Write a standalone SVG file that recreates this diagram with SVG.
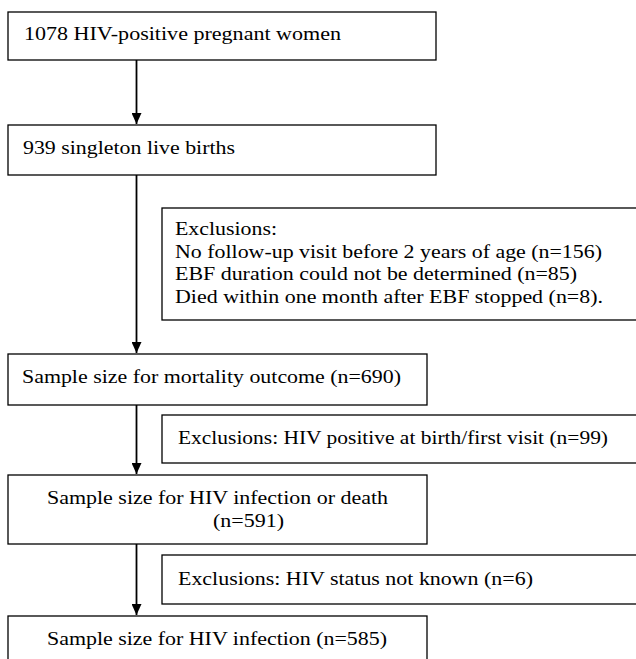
<svg xmlns="http://www.w3.org/2000/svg" width="636" height="659" viewBox="0 0 636 659">
<style>
.box{fill:#fff;stroke:#000;stroke-width:1.3}
.t{font-family:"Liberation Serif","Times New Roman",serif;font-size:19.5px;fill:#000}
.c{stroke:#000;stroke-width:1.8;fill:none}
</style>
<defs>
<marker id="ah" markerUnits="userSpaceOnUse" markerWidth="11" markerHeight="10" viewBox="0 0 11 10" refX="11" refY="5" orient="auto">
<path d="M0,0 L11,5 L0,10 Z" fill="#000"/>
</marker>
</defs>
<rect width="636" height="659" fill="#fff"/>
<g id="connectors">
<line class="c" x1="136.5" y1="60" x2="136.5" y2="124" marker-end="url(#ah)"/>
<line class="c" x1="136.5" y1="175" x2="136.5" y2="353" marker-end="url(#ah)"/>
<line class="c" x1="136.5" y1="405" x2="136.5" y2="474" marker-end="url(#ah)"/>
<line class="c" x1="136.5" y1="544" x2="136.5" y2="615" marker-end="url(#ah)"/>
</g>
<g id="n1">
<rect class="box" x="8" y="12" width="428" height="48"/>
<text class="t" x="24" y="40" textLength="317" lengthAdjust="spacingAndGlyphs">1078 HIV-positive pregnant women</text>
</g>
<g id="n2">
<rect class="box" x="8" y="125" width="428" height="50"/>
<text class="t" x="23" y="154" textLength="212" lengthAdjust="spacingAndGlyphs">939 singleton live births</text>
</g>
<g id="ex1">
<rect class="box" x="162" y="208" width="500" height="112"/>
<text class="t" x="175" y="235" textLength="102" lengthAdjust="spacingAndGlyphs">Exclusions:</text>
<text class="t" x="175" y="257.5" textLength="427" lengthAdjust="spacingAndGlyphs">No follow-up visit before 2 years of age (n=156)</text>
<text class="t" x="175" y="280" textLength="402" lengthAdjust="spacingAndGlyphs">EBF duration could not be determined (n=85)</text>
<text class="t" x="175" y="302.5" textLength="428" lengthAdjust="spacingAndGlyphs">Died within one month after EBF stopped (n=8).</text>
</g>
<g id="n3">
<rect class="box" x="8" y="354" width="419" height="51"/>
<text class="t" x="22" y="383" textLength="379" lengthAdjust="spacingAndGlyphs">Sample size for mortality outcome (n=690)</text>
</g>
<g id="ex2">
<rect class="box" x="162" y="415" width="500" height="48"/>
<text class="t" x="178" y="444" textLength="430" lengthAdjust="spacingAndGlyphs">Exclusions: HIV positive at birth/first visit (n=99)</text>
</g>
<g id="n4">
<rect class="box" x="8" y="475" width="419" height="69"/>
<text class="t" x="47" y="504" textLength="341" lengthAdjust="spacingAndGlyphs">Sample size for HIV infection or death</text>
<text class="t" x="213" y="527" textLength="71" lengthAdjust="spacingAndGlyphs">(n=591)</text>
</g>
<g id="ex3">
<rect class="box" x="162" y="555" width="500" height="49"/>
<text class="t" x="178" y="585" textLength="355" lengthAdjust="spacingAndGlyphs">Exclusions: HIV status not known (n=6)</text>
</g>
<g id="n5">
<rect class="box" x="8" y="616" width="419" height="60"/>
<text class="t" x="47" y="645" textLength="340" lengthAdjust="spacingAndGlyphs">Sample size for HIV infection (n=585)</text>
</g>
</svg>
